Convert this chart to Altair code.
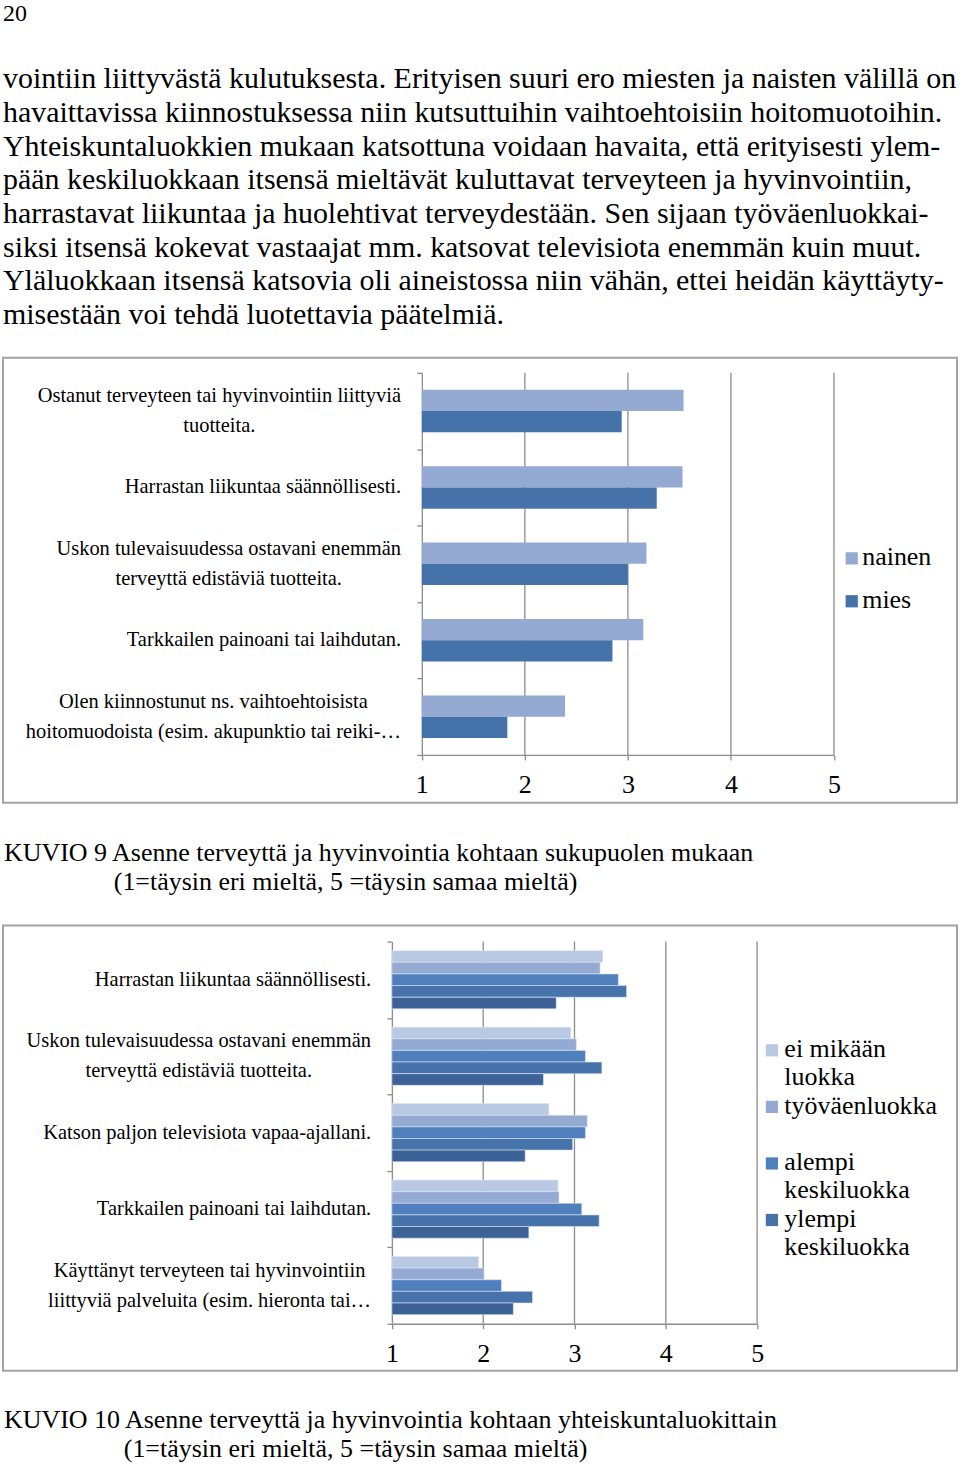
import altair as alt
import pandas as pd

SERIF = "Liberation Serif"
GRID = "#8c8c8c"
FRAME = "#a3a3a3"
PAGE_W = 956

PAGE_NUMBER = "20"
PARAGRAPH = [
    "vointiin liittyvästä kulutuksesta. Erityisen suuri ero miesten ja naisten välillä on",
    "havaittavissa kiinnostuksessa niin kutsuttuihin vaihtoehtoisiin hoitomuotoihin.",
    "Yhteiskuntaluokkien mukaan katsottuna voidaan havaita, että erityisesti ylem-",
    "pään keskiluokkaan itsensä mieltävät kuluttavat terveyteen ja hyvinvointiin,",
    "harrastavat liikuntaa ja huolehtivat terveydestään. Sen sijaan työväenluokkai-",
    "siksi itsensä kokevat vastaajat mm. katsovat televisiota enemmän kuin muut.",
    "Yläluokkaan itsensä katsovia oli aineistossa niin vähän, ettei heidän käyttäyty-",
    "misestään voi tehdä luotettavia päätelmiä.",
]
CAPTION_9 = ["KUVIO 9 Asenne terveyttä ja hyvinvointia kohtaan sukupuolen mukaan",
             "(1=täysin eri mieltä, 5 =täysin samaa mieltä)"]
CAPTION_10 = ["KUVIO 10 Asenne terveyttä ja hyvinvointia kohtaan yhteiskuntaluokittain",
              "(1=täysin eri mieltä, 5 =täysin samaa mieltä)"]

X_TICKS = [1, 2, 3, 4, 5]

# KUVIO 9
K9_LABELS = [
    ["Ostanut terveyteen tai hyvinvointiin liittyviä", "tuotteita."],
    ["Harrastan liikuntaa säännöllisesti."],
    ["Uskon tulevaisuudessa ostavani enemmän", "terveyttä edistäviä tuotteita."],
    ["Tarkkailen painoani tai laihdutan."],
    ["Olen kiinnostunut ns. vaihtoehtoisista", "hoitomuodoista (esim. akupunktio tai reiki-…"],
]
K9_SERIES = ["nainen", "mies"]
K9_NAINEN = [3.54, 3.53, 3.18, 3.15, 2.39]
K9_MIES = [2.94, 3.28, 3.00, 2.85, 1.83]
K9_COLORS = ["#94aad3", "#4672aa"]
K9_LEGEND = [["nainen"], ["mies"]]

# KUVIO 10
K10_LABELS = [
    ["Harrastan liikuntaa säännöllisesti."],
    ["Uskon tulevaisuudessa ostavani enemmän", "terveyttä edistäviä tuotteita."],
    ["Katson paljon televisiota vapaa-ajallani."],
    ["Tarkkailen painoani tai laihdutan."],
    ["Käyttänyt terveyteen tai hyvinvointiin", "liittyviä palveluita (esim. hieronta tai…"],
]
K10_SERIES = ["ei mikään luokka", "työväenluokka", "alempi keskiluokka",
              "ylempi keskiluokka", "yläluokka"]
K10_EI = [3.31, 2.96, 2.72, 2.82, 1.95]
K10_TYO = [3.28, 3.02, 3.14, 2.83, 2.01]
K10_ALEMPI = [3.48, 3.12, 3.12, 3.08, 2.20]
K10_YLEMPI = [3.57, 3.30, 2.98, 3.27, 2.54]
K10_YLA = [2.80, 2.66, 2.46, 2.50, 2.33]
K10_COLORS = ["#b9c9e3", "#94aad3", "#4f80bd", "#4673aa", "#3d6297"]
K10_LEGEND = [["ei mikään", "luokka"], ["työväenluokka"], ["alempi", "keskiluokka"],
              ["ylempi", "keskiluokka"]]

LAB_FS = 20.5

# Liberation Serif (Times-compatible) advance widths, per 1000 em, for text measuring
_W = dict(zip("abcdefghijklmnopqrstuvwxyzäöå",
              [444, 500, 444, 500, 444, 333, 500, 500, 278, 278, 500, 278, 778, 500, 500,
               500, 500, 333, 389, 278, 500, 500, 722, 500, 500, 444, 444, 500, 444]))
_W.update(dict(zip("ABCDEFGHIJKLMNOPQRSTUVWXYZ",
                   [722, 667, 667, 722, 611, 556, 722, 722, 333, 389, 722, 611, 889, 722,
                    722, 556, 722, 667, 556, 611, 722, 722, 944, 722, 722, 611])))
_W.update({" ": 250, ".": 250, ",": 250, "-": 333, "(": 333, ")": 333, "…": 1000})


def text_width(s, size):
    return sum(_W.get(ch, 500) for ch in s) / 1000.0 * size


def section(labels, series, values, colors, x_range, y_range, group_frac,
            label_right, legend_lines, leg_sq_x, leg_txt_x, leg_y_range,
            bar_stroke=0.0, height=446):
    cats = ["\n".join(l) for l in labels]
    ncat, nser = len(cats), len(series)
    rows = []
    for si, (s, vals) in enumerate(zip(series, values)):
        for ci, (c, v) in enumerate(zip(cats, vals)):
            rows.append({"cat": c, "ci": ci, "series": s, "si": si, "value": v})
    df = pd.DataFrame(rows)

    pad = (1 - group_frac) / 2
    bw = group_frac / nser

    xscale = alt.Scale(domain=[1, 5], range=x_range, nice=False, zero=False)
    yscale = alt.Scale(domain=[0, ncat], range=y_range, nice=False, zero=False)
    cscale = alt.Scale(domain=series, range=colors)

    grid = alt.Chart(pd.DataFrame({"t": X_TICKS[1:]})).mark_rule(
        color=GRID, strokeWidth=1.3
    ).encode(
        x=alt.X("t:Q", scale=xscale, axis=None),
        y=alt.value(y_range[0]),
        y2=alt.value(y_range[1]),
    )

    bar_mark = (alt.Chart(df).mark_bar(stroke="#dfe6f2", strokeWidth=bar_stroke)
                if bar_stroke > 0 else alt.Chart(df).mark_bar())
    bars = bar_mark.transform_calculate(
        y0=f"datum.ci + {pad} + datum.si * {bw}",
        y1=f"datum.ci + {pad} + (datum.si + 1) * {bw}",
    ).encode(
        x=alt.X("value:Q", scale=xscale,
                axis=alt.Axis(values=X_TICKS, offset=-(height - y_range[1]), grid=False,
                              domainColor=GRID, domainWidth=1.3, tickColor=GRID,
                              tickWidth=1.3, tickSize=5, labelFont=SERIF, labelFontSize=26,
                              labelColor="black", labelPadding=25, labelBaseline="middle",
                              labelFlush=False, title=None, format="d")),
        x2=alt.datum(1),
        y=alt.Y("y0:Q", scale=yscale,
                axis=alt.Axis(values=list(range(ncat + 1)), labels=False, title=None,
                              offset=-x_range[0], domainColor=GRID, domainWidth=1.3,
                              tickColor=GRID, tickWidth=1.3, tickSize=5, grid=False)),
        y2="y1:Q",
        color=alt.Color("series:N", scale=cscale, legend=None),
        tooltip=["cat:N", "series:N", "value:Q"],
    )

    lab = pd.DataFrame({
        "cat": cats,
        "ci": list(range(ncat)),
        "nlines": [len(l) for l in labels],
        "cx": [label_right - max(text_width(s, LAB_FS) for s in l) / 2 for l in labels],
    })
    single = alt.Chart(lab).transform_filter("datum.nlines == 1").transform_calculate(
        yc="datum.ci + 0.5"
    ).mark_text(
        align="right", baseline="middle", font=SERIF, fontSize=LAB_FS, color="black"
    ).encode(
        x=alt.value(label_right),
        y=alt.Y("yc:Q", scale=yscale, axis=None),
        text="cat:N",
    )
    multi = alt.Chart(lab).transform_filter("datum.nlines > 1").transform_calculate(
        yc="datum.ci + 0.5"
    ).mark_text(
        align="center", baseline="middle", font=SERIF, fontSize=LAB_FS, color="black",
        lineBreak="\n", lineHeight=30, dy=-15
    ).encode(
        x=alt.X("cx:Q", scale=None, axis=None),
        y=alt.Y("yc:Q", scale=yscale, axis=None),
        text="cat:N",
    )

    n = len(legend_lines)
    leg = pd.DataFrame({"series": series[:n], "text": ["\n".join(l) for l in legend_lines]})
    lscale = alt.Scale(type="point", domain=series[:n], range=leg_y_range, padding=0)
    sq = alt.Chart(leg).mark_square(size=150, opacity=1).encode(
        x=alt.value(leg_sq_x),
        y=alt.Y("series:N", scale=lscale, axis=None),
        color=alt.Color("series:N", scale=cscale, legend=None),
    )
    lt = alt.Chart(leg).mark_text(
        align="left", baseline="alphabetic", dy=7, lineBreak="\n", lineHeight=28,
        font=SERIF, fontSize=26, color="black"
    ).encode(
        x=alt.value(leg_txt_x),
        y=alt.Y("series:N", scale=lscale, axis=None),
        text="text:N",
    )

    return alt.layer(grid, bars, single, multi, sq, lt).resolve_scale(
        x="independent", y="independent"
    ).properties(
        width=PAGE_W, height=height,
        view=alt.ViewBackground(stroke=FRAME, strokeWidth=2),
    )


def caption(lines, indent, y1, y2, h):
    c1 = alt.Chart(pd.DataFrame({"t": [lines[0]]})).mark_text(
        align="left", baseline="middle", font=SERIF, fontSize=26, color="black"
    ).encode(x=alt.value(1), y=alt.value(y1), text="t:N")
    c2 = alt.Chart(pd.DataFrame({"t": [lines[1]]})).mark_text(
        align="left", baseline="middle", font=SERIF, fontSize=26, color="black"
    ).encode(x=alt.value(indent), y=alt.value(y2), text="t:N")
    return alt.layer(c1, c2).properties(width=PAGE_W, height=h)


# header text
para_df = pd.DataFrame({"i": list(range(len(PARAGRAPH))), "line": PARAGRAPH})
para = alt.Chart(para_df).mark_text(
    align="left", baseline="middle", font=SERIF, fontSize=30, color="black"
).encode(
    x=alt.value(0),
    y=alt.Y("i:O", scale=alt.Scale(type="point", range=[78, 314], padding=0), axis=None),
    text="line:N",
)
pnum = alt.Chart(pd.DataFrame({"t": [PAGE_NUMBER]})).mark_text(
    align="left", baseline="middle", font=SERIF, fontSize=24, color="black"
).encode(x=alt.value(0), y=alt.value(13), text="t:N")
header = alt.layer(pnum, para).properties(width=PAGE_W, height=356)

sec9 = section(K9_LABELS, K9_SERIES, [K9_NAINEN, K9_MIES], K9_COLORS,
               x_range=[419.7, 832.7], y_range=[15, 398], group_frac=0.556,
               label_right=399, legend_lines=K9_LEGEND, leg_sq_x=850.5, leg_txt_x=861,
               leg_y_range=[201, 244])
cap9 = caption(CAPTION_9, 111, 49, 78, 121)

sec10 = section(K10_LABELS, K10_SERIES, [K10_EI, K10_TYO, K10_ALEMPI, K10_YLEMPI, K10_YLA],
                K10_COLORS, x_range=[389.7, 755.7], y_range=[16, 399], group_frac=0.761,
                label_right=369, legend_lines=K10_LEGEND, leg_sq_x=770.5,
                leg_txt_x=783, leg_y_range=[125, 295], bar_stroke=0.6)
cap10 = caption(CAPTION_10, 121, 48, 78, 93)

chart = alt.vconcat(header, sec9, cap9, sec10, cap10, spacing=0).resolve_scale(
    color="independent"
).properties(
    padding={"left": 2, "right": 2, "top": 0, "bottom": 0},
    background="white",
).configure_view(strokeWidth=0)

chart.save("out.html", embed_options={"renderer": "svg", "actions": False})
